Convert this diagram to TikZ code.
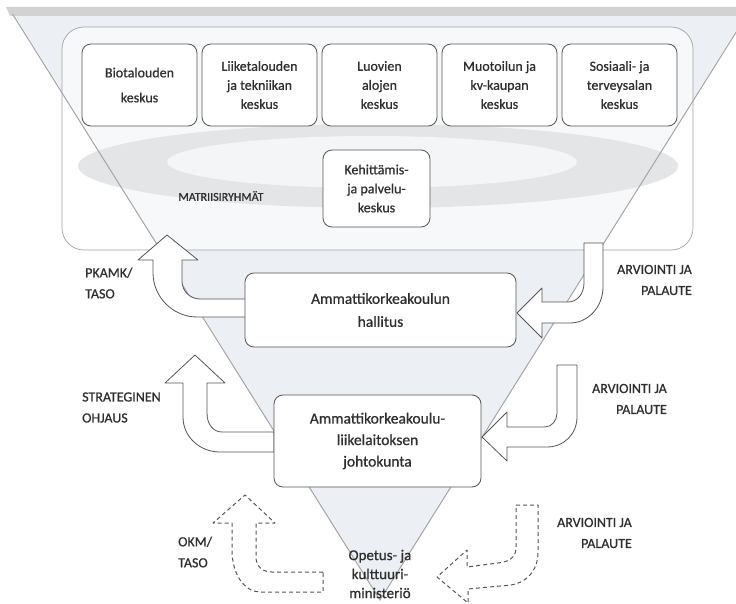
\documentclass[tikz,border=0pt]{standalone}
\usepackage{fontspec}
\setmainfont{Carlito}[FakeBold=0.7]
\definecolor{textc}{HTML}{2E2E2E}
\definecolor{boxline}{HTML}{555555}
\definecolor{trifill}{HTML}{ECEFF3}
\definecolor{triline}{HTML}{A4A4A4}
\definecolor{ringout}{HTML}{E4E5E7}
\definecolor{ringin}{HTML}{F4F5F7}
\begin{document}
\begin{tikzpicture}[x=1pt,y=-1pt,
  unitbox/.style={draw=boxline, line width=0.8pt, fill=white, rounded corners=9pt,
    align=center, text=textc, inner sep=0pt, font=\fontsize{14}{19}\selectfont},
  bigbox/.style={unitbox, font=\fontsize{15.5}{23}\selectfont},
  lbl/.style={text=textc, inner sep=0pt, font=\fontsize{14}{21}\selectfont},
  blockarrow/.style={draw=boxline, line width=0.8pt, fill=white, line join=round},
  dasharrow/.style={draw=boxline, line width=1pt, dash pattern=on 4pt off 3pt, line join=round}
]
\useasboundingbox (0,0) rectangle (736,604);
\clip (0,0) rectangle (736,604);

% inverted triangle
\fill[trifill] (12.5,12) -- (747.5,12) -- (380,600) -- cycle;
\fill[gray!35] (6,7) -- (754,7) -- (750,16) -- (10,16) -- cycle;

% container of the matrix groups
\draw[draw=triline, line width=0.7pt, fill=white, fill opacity=0.6, rounded corners=22pt]
  (62,27) rectangle (693,250);

% faint ring in the background
\fill[ringout] (378,166) ellipse [x radius=300, y radius=42];
\fill[ringin] (372,162) ellipse [x radius=205, y radius=26];

% triangle edges
\draw[triline, line width=1pt] (12.5,14) -- (380,600) -- (747.5,14);

% matrix boxes
\node[unitbox, minimum width=115pt, minimum height=82pt] (bio) at (139.5,85) {Biotalouden\\[6pt]keskus};
\node[unitbox, minimum width=115pt, minimum height=82pt] (lii) at (259.5,85) {Liiketalouden\\ja tekniikan\\keskus};
\node[unitbox, minimum width=115pt, minimum height=82pt] (luo) at (379.5,85) {Luovien\\alojen\\keskus};
\node[unitbox, minimum width=115pt, minimum height=82pt] (muo) at (499.5,85) {Muotoilun ja\\kv-kaupan\\keskus};
\node[unitbox, minimum width=115pt, minimum height=82pt] (sos) at (619.5,85) {Sosiaali- ja\\terveysalan\\keskus};
\node[unitbox, minimum width=107pt, minimum height=77pt] (keh) at (376.5,188.5) {Kehittämis-\\ja palvelu-\\keskus};
\node[text=textc, inner sep=0pt, font=\fontsize{12}{14}\selectfont] (mat) at (221,196) {MATRIISIRYHMÄT};

% solid block arrows
\draw[blockarrow] (246,299) -- (200,299) .. controls (190,299) and (182,291) .. (182,281)
  -- (182,260) -- (198,260) -- (167,235) -- (138,260) -- (153,260) -- (153,273)
  .. controls (153,297) and (173,317) .. (197,317) -- (246,317) -- cycle;
\draw[blockarrow] (584,243) -- (603,243) -- (603,287) .. controls (603,307) and (588,323) .. (570,323)
  -- (542,323) -- (542,338) -- (517,313) -- (542,288) -- (542,302) -- (568,302)
  .. controls (577,302) and (584,294) .. (584,283) -- cycle;
\draw[blockarrow] (274,432) -- (222,432) .. controls (213,432) and (207,424) .. (207,413)
  -- (207,383) -- (225,383) -- (195,355) -- (165,383) -- (183,383) -- (183,417)
  .. controls (183,437) and (200,452) .. (220,452) -- (274,452) -- cycle;
\draw[blockarrow] (557,365) -- (577,365) -- (577,417) .. controls (577,434) and (564,447) .. (547,447)
  -- (507,447) -- (507,461) -- (482,437) -- (507,412) -- (507,427) -- (545,427)
  .. controls (552,427) and (557,420) .. (557,413) -- cycle;

% dashed block arrows
\draw[dasharrow] (323,572) -- (272,572) .. controls (262,572) and (256,566) .. (256,557)
  -- (256,523) -- (275,523) -- (245,495) -- (213,523) -- (232,523) -- (232,550)
  .. controls (232,575) and (245,592) .. (260,592) -- (323,592) -- cycle;
\draw[dasharrow] (516,505) -- (538,505) -- (538,552) .. controls (538,572) and (525,583) .. (511,585)
  -- (468,589) -- (468,603) -- (437,577) -- (467,550) -- (467,567) -- (498,563)
  .. controls (508,562) and (516,558) .. (516,548) -- cycle;

% governance boxes
\node[bigbox, minimum width=271pt, minimum height=74pt] (hal) at (380.5,310) {Ammattikorkeakoulun\\hallitus};
\node[bigbox, minimum width=207pt, minimum height=92pt, font=\fontsize{15.5}{21.5}\selectfont] (joh) at (377.5,441) {Ammattikorkeakoulu-\\liikelaitoksen\\johtokunta};
\node[text=textc, inner sep=0pt, align=center, font=\fontsize{15}{19}\selectfont] (okm) at (380,574) {Opetus- ja\\kulttuuri-\\ministeriö};

% labels
\node[lbl, anchor=west, align=left] (l1) at (85,283) {PKAMK/\\TASO};
\node[lbl, anchor=east, align=right] (r1) at (692,280) {ARVIOINTI JA\\PALAUTE};
\node[lbl, anchor=west, align=left] (l2) at (82,407.5) {STRATEGINEN\\OHJAUS};
\node[lbl, anchor=east, align=right] (r2) at (667,399) {ARVIOINTI JA\\PALAUTE};
\node[lbl, anchor=west, align=left] (l3) at (178,552) {OKM/\\TASO};
\node[lbl, anchor=east, align=right] (r3) at (632,533) {ARVIOINTI JA\\PALAUTE};
\end{tikzpicture}
\end{document}
